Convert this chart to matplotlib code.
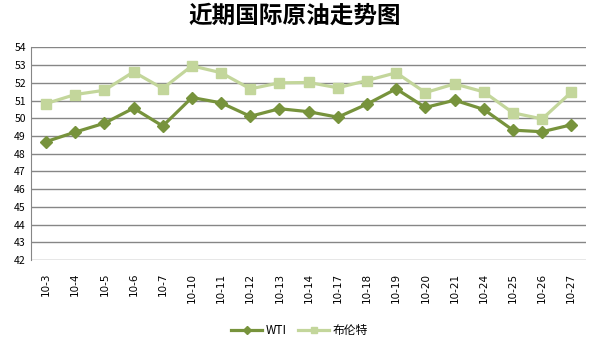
import numpy as np
import matplotlib.pyplot as plt

plt.rcParams['font.family'] = ['Noto Sans CJK SC', 'DejaVu Sans']

dates = ['10-3', '10-4', '10-5', '10-6', '10-7', '10-10', '10-11', '10-12', '10-13',
         '10-14', '10-17', '10-18', '10-19', '10-20', '10-21', '10-24', '10-25',
         '10-26', '10-27']
wti = [48.68, 49.22, 49.72, 50.57, 49.56, 51.17, 50.87, 50.11, 50.54,
       50.37, 50.06, 50.80, 51.66, 50.61, 51.02, 50.50, 49.33, 49.24, 49.63]
brent = [50.83, 51.34, 51.58, 52.62, 51.68, 52.96, 52.57, 51.66, 52.00,
         52.02, 51.72, 52.13, 52.57, 51.45, 51.94, 51.49, 50.31, 49.96, 51.47]

x = np.arange(len(dates))

fig = plt.figure(figsize=(5.93, 3.41), dpi=100)
ax = fig.add_axes([0.053, 0.2375, 0.935, 0.6235])

ax.plot(x, wti, color='#77933c', lw=2.3, marker='D', ms=6, label='WTI', zorder=3)
ax.plot(x, brent, color='#c3d69b', lw=2.3, marker='s', ms=7, label='布伦特', zorder=3)

ax.set_xlim(-0.5, len(dates) - 0.5)
ax.set_ylim(42, 54)
ax.set_yticks(range(42, 55))
ax.set_xticks(x)
ax.set_xticklabels(dates, rotation=90, fontsize=7.5, family='DejaVu Sans')
ax.tick_params(axis='y', labelsize=7.5, length=0, pad=4)
ax.tick_params(axis='x', length=0, pad=9)
ax.grid(axis='y', color='#868686', lw=1)
ax.set_axisbelow(True)
for s in ['top', 'right', 'bottom']:
    ax.spines[s].set_visible(False)
ax.spines['left'].set_color('#868686')

fig.suptitle('近期国际原油走势图', x=0.497, y=0.99, fontsize=17, fontweight='bold')
fig.legend(loc='lower center', bbox_to_anchor=(0.505, -0.02), ncol=2, frameon=False,
           fontsize=8.5, handlelength=2.6, handletextpad=0.3, columnspacing=1.0,
           markerscale=0.65)

fig.savefig('out.png', dpi=100)
